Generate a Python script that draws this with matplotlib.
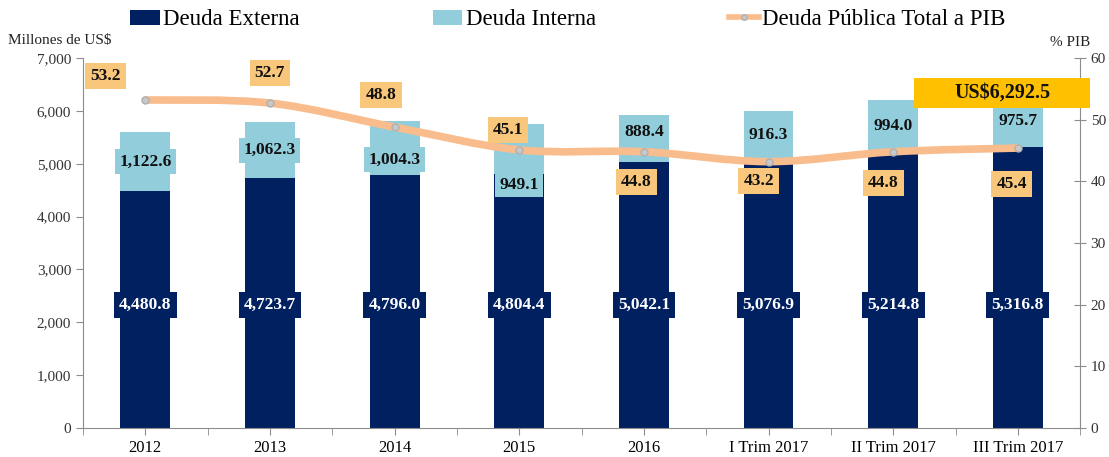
import matplotlib.pyplot as plt
from matplotlib.patches import Patch, Rectangle, PathPatch
from matplotlib.lines import Line2D
from matplotlib.path import Path
import numpy as np

# --- Datos ---
categorias = ['2012', '2013', '2014', '2015', '2016', 'I Trim 2017', 'II Trim 2017', 'III Trim 2017']
deuda_externa = [4480.8, 4723.7, 4796.0, 4804.4, 5042.1, 5076.9, 5214.8, 5316.8]
deuda_interna = [1122.6, 1062.3, 1004.3, 949.1, 888.4, 916.3, 994.0, 975.7]
deuda_pib = [53.2, 52.7, 48.8, 45.1, 44.8, 43.2, 44.8, 45.4]
total_ultimo = 'US$6,292.5'

# --- Estilo ---
AZUL = '#002060'
CELESTE = '#92CDDC'
NARANJA = '#F9BC8C'
CAJA_PIB = '#F9C77B'
ORO = '#FFC000'
GRIS = '#8C8C8C'
FUENTE = 'Liberation Serif'
plt.rcParams['font.family'] = FUENTE

# desplazamientos de etiquetas (posicion de texto, no datos)
pib_dx = [-0.32, 0.0, -0.11, -0.09, -0.06, -0.08, -0.08, -0.05]
pib_y = [57.1, 57.6, 54.0, 48.3, 39.9, 40.1, 39.7, 39.6]
int_dy = [0, 0, -220, -680, 120, 0, 0, 0]
ext_y = 2330

fig = plt.figure(figsize=(11.09, 4.57), dpi=100)
ax = fig.add_axes([0.0748, 0.0635, 0.8992, 0.8095])
ax2 = ax.twinx()

x = np.arange(len(categorias))
ancho = 0.4
ax.bar(x, deuda_externa, ancho, color=AZUL, zorder=2)
ax.bar(x, deuda_interna, ancho, bottom=deuda_externa, color=CELESTE, zorder=2)

ax.set_xlim(-0.5, len(categorias) - 0.5)
ax.set_ylim(0, 7000)
ax.set_yticks(range(0, 7001, 1000))
ax.set_yticklabels([f'{v:,}' for v in range(0, 7001, 1000)])
ax2.set_ylim(0, 60)
ax2.set_yticks(range(0, 61, 10))

ax.set_xticks(x)
ax.set_xticklabels(categorias)
ax.set_xticks(np.arange(-0.5, len(categorias), 1), minor=True)
ax.tick_params(axis='x', which='both', length=5, color=GRIS, labelsize=12, pad=4)
ax.tick_params(axis='y', length=5, color=GRIS, labelsize=11, labelcolor='#333333')
ax2.tick_params(axis='y', length=8, direction='inout', color=GRIS, labelsize=11, labelcolor='#333333')

for a in (ax, ax2):
    a.spines['top'].set_visible(False)
    for s in ('left', 'right', 'bottom'):
        a.spines[s].set_color(GRIS)
ax.spines['right'].set_visible(False)
ax2.spines['left'].set_visible(False)
ax2.spines['bottom'].set_visible(False)

# --- Linea suavizada (Bezier) ---
px = x.astype(float)
py = np.array(deuda_pib, dtype=float)
verts = [(px[0], py[0])]
codes = [Path.MOVETO]
n = len(px)
for i in range(n - 1):
    p0 = np.array([px[max(i - 1, 0)], py[max(i - 1, 0)]])
    p1 = np.array([px[i], py[i]])
    p2 = np.array([px[i + 1], py[i + 1]])
    p3 = np.array([px[min(i + 2, n - 1)], py[min(i + 2, n - 1)]])
    c1 = p1 + (p2 - p0) / 6
    c2 = p2 - (p3 - p1) / 6
    verts += [tuple(c1), tuple(c2), tuple(p2)]
    codes += [Path.CURVE4] * 3
ax2.add_patch(PathPatch(Path(verts, codes), facecolor='none', edgecolor=NARANJA,
                        lw=5.5, capstyle='round', zorder=3))
ax2.plot(px, py, 'o', ms=5, color='#C8C8C8', mec='#B0B0B0', zorder=4)

# --- Etiquetas ---
for i in range(n):
    ax2.text(x[i], ext_y, f'{deuda_externa[i]:,.1f}', transform=ax.transData,
             ha='center', va='center', color='white', fontsize=12.5, fontweight='bold',
             bbox=dict(boxstyle='square,pad=0.3', fc=AZUL, ec='none'), zorder=5)
    ym = deuda_externa[i] + deuda_interna[i] / 2 + int_dy[i]
    ax2.text(x[i], ym, f'{deuda_interna[i]:,.1f}', transform=ax.transData,
             ha='center', va='center', color='#111111', fontsize=12.5, fontweight='bold',
             bbox=dict(boxstyle='square,pad=0.25', fc=CELESTE, ec='none'), zorder=5)
    ax2.text(x[i] + pib_dx[i], pib_y[i], f'{deuda_pib[i]:.1f}',
             ha='center', va='center', color='#111111', fontsize=12.5, fontweight='bold',
             bbox=dict(boxstyle='square,pad=0.3', fc=CAJA_PIB, ec='none'), zorder=6)

# total del ultimo periodo
ax2.add_patch(Rectangle((6.17, 6054), 1.41, 570, transform=ax.transData,
                        fc=ORO, ec='none', clip_on=False, zorder=6))
ax2.text(6.875, 6339, total_ultimo, transform=ax.transData, ha='center', va='center',
         fontsize=14.5, fontweight='bold', color='#111111', zorder=7)

fig.text(0.007, 0.912, 'Millones de US$', fontsize=11, color='#222222', va='center')
fig.text(0.983, 0.908, '% PIB', fontsize=11, color='#222222', va='center', ha='right')

# --- Leyenda ---
handles = [Patch(fc=AZUL, ec='none'), Patch(fc=CELESTE, ec='none'),
           Line2D([], [], color=NARANJA, lw=4, marker='o', ms=4, mfc='#C8C8C8', mec='#B0B0B0')]
fig.legend(handles, ['Deuda Externa', 'Deuda Interna', 'Deuda Pública Total a PIB'],
           loc='upper center', bbox_to_anchor=(0.512, 1.025), ncol=3, frameon=False,
           fontsize=16.5, handlelength=1.3, handleheight=0.65, handletextpad=0.15,
           columnspacing=5.8)

fig.savefig('out.png', dpi=100)
